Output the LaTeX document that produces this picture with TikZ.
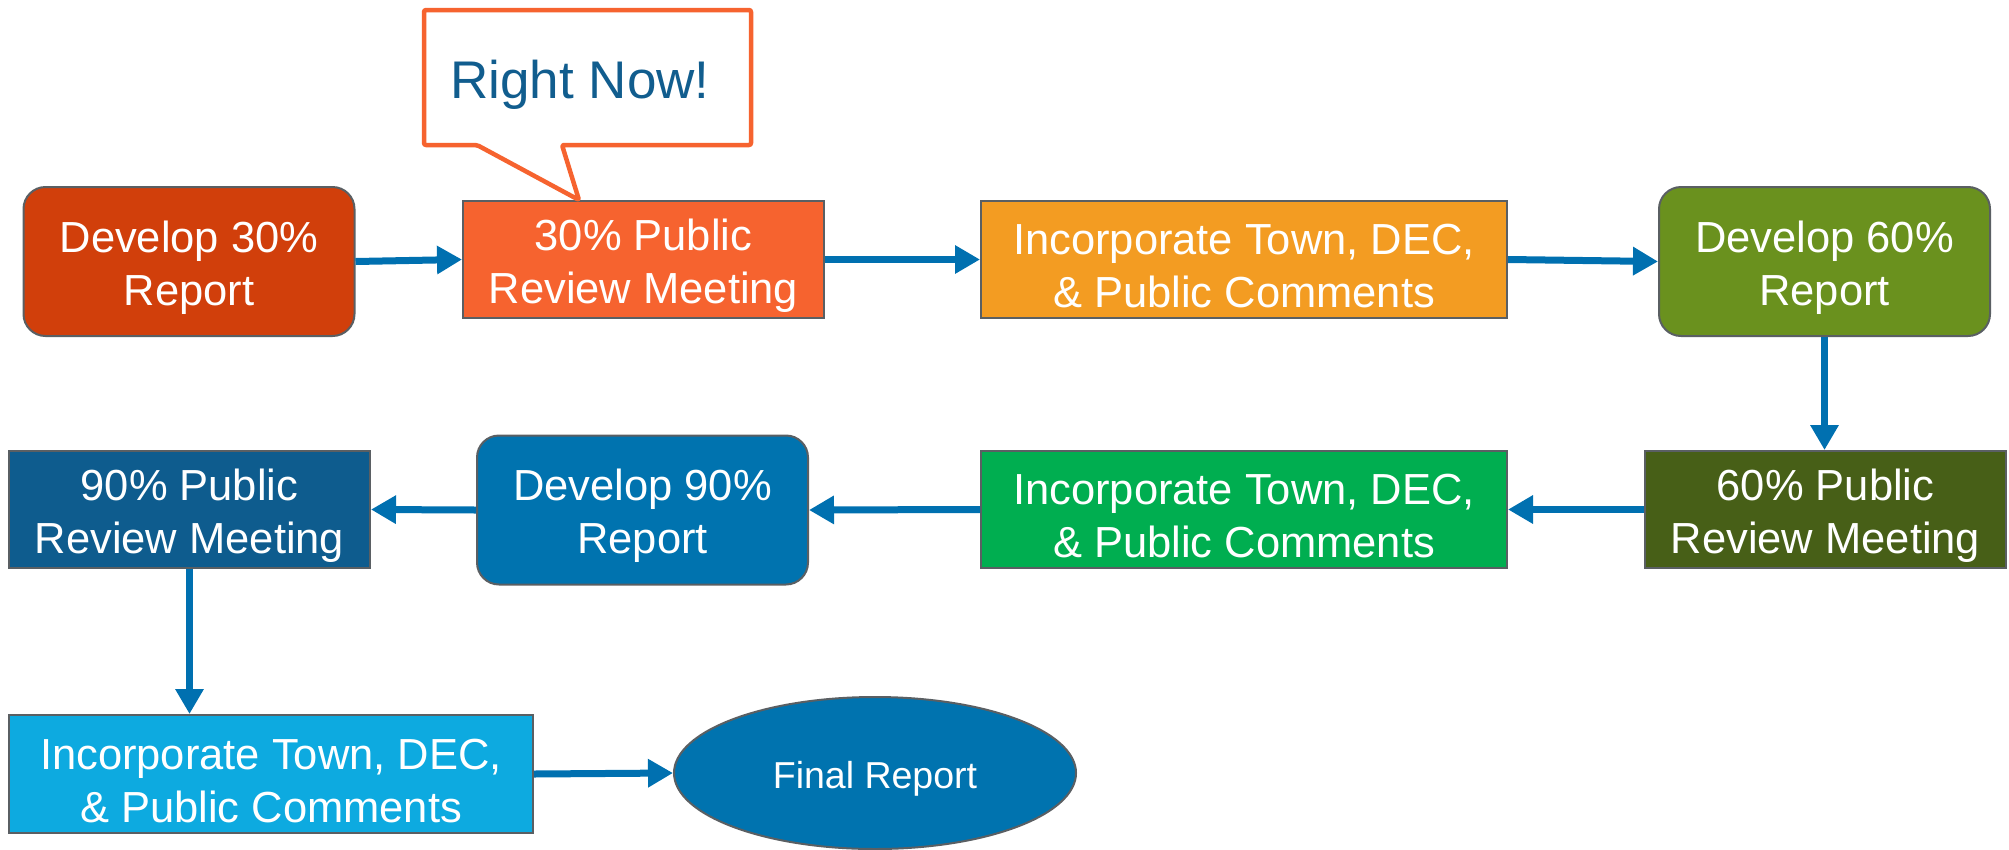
\documentclass[tikz,border=0pt]{standalone}
\usepackage{fontspec}
\setmainfont{Liberation Sans}
\usetikzlibrary{arrows.meta,shapes.geometric}

\definecolor{boxedge}{HTML}{5A5F63}
\definecolor{flowblue}{HTML}{0070B0}
\definecolor{devthirty}{HTML}{D13F0B}
\definecolor{meetthirty}{HTML}{F6632F}
\definecolor{incorange}{HTML}{F39C22}
\definecolor{devsixty}{HTML}{6A911E}
\definecolor{meetsixty}{HTML}{475F17}
\definecolor{incgreen}{HTML}{00AE50}
\definecolor{devninety}{HTML}{0073AF}
\definecolor{meetninety}{HTML}{0E5C8E}
\definecolor{incblue}{HTML}{0DAAE0}
\definecolor{nowblue}{HTML}{115D8E}

% invisible strut that gives the first line of a label extra height,
% so two-line labels sit optically centred in their boxes
\newcommand{\toplift}{\rule{0pt}{44pt}}

\tikzset{
  box/.style={draw=boxedge, line width=2pt, text=white, align=center,
    inner sep=0pt, font=\fontsize{43.5}{53}\selectfont},
  roundbox/.style={box, rounded corners=22pt},
  widebox/.style={box, minimum width=526pt, minimum height=117pt},
  meetbox/.style={box, minimum width=361pt, minimum height=117pt},
  devbox/.style={roundbox, minimum width=331pt, minimum height=149pt},
  flow/.style={draw=flowblue, line width=7pt,
    -{Triangle[length=25pt,width=27pt]}},
  bubble/.style={draw=meetthirty, line width=4.5pt, fill=white,
    line join=round, rounded corners=2pt}
}

\begin{document}
\begin{tikzpicture}[x=1pt,y=-1pt]
  \useasboundingbox (0,0) rectangle (2009,849);

  % first row, left to right
  \node[devbox, fill=devthirty] (dev30) at (189,261.5) {\toplift Develop 30\%\\Report};
  \node[meetbox, fill=meetthirty] (meet30) at (643.5,259.5) {\toplift 30\% Public\\Review Meeting};
  \node[widebox, fill=incorange] (inc1) at (1244,259.5) {\toplift Incorporate Town, DEC,\\\& Public Comments};
  \node[devbox, fill=devsixty] (dev60) at (1824.5,261.5) {\toplift Develop 60\%\\Report};

  % second row, right to left
  \node[meetbox, fill=meetsixty] (meet60) at (1825.5,509.5) {\toplift 60\% Public\\Review Meeting};
  \node[widebox, fill=incgreen] (inc2) at (1244,509.5) {\toplift Incorporate Town, DEC,\\\& Public Comments};
  \node[devbox, fill=devninety] (dev90) at (642.5,510) {\toplift Develop 90\%\\Report};
  \node[meetbox, fill=meetninety] (meet90) at (189.5,509.5) {\toplift 90\% Public\\Review Meeting};

  % last row
  \node[box, fill=incblue, minimum width=524pt, minimum height=118pt] (inc3) at (271,774) {\toplift Incorporate Town, DEC,\\\& Public Comments};
  \node[ellipse, draw=boxedge, line width=2pt, fill=devninety, text=white,
        minimum width=402pt, minimum height=152pt, inner sep=0pt,
        font=\fontsize{37.5}{45}\selectfont] (final) at (875,773) {\rule{0pt}{39pt}Final Report};

  % connectors
  \draw[flow] (dev30.east) -- (meet30.west);
  \draw[flow] (meet30.east) -- (inc1.west);
  \draw[flow] (inc1.east) -- (dev60.west);
  \draw[flow] (dev60.south) -- (dev60.south |- meet60.north);
  \draw[flow] (meet60.west) -- (inc2.east);
  \draw[flow] (inc2.west) -- (dev90.east);
  \draw[flow] (dev90.west) -- (meet90.east);
  \draw[flow] (meet90.south) -- (meet90.south |- inc3.north);
  \draw[flow] (inc3.east) -- (final.west);

  % speech bubble pointing at the current step
  \coordinate (tip) at ([xshift=-64.5pt]meet30.north);
  \draw[bubble] (424,10) -- (751,10) -- (751,145) -- (562,145) -- (tip)
    -- (477,145) -- (424,145) -- cycle;
  \node[anchor=base, text=nowblue, inner sep=0pt,
        font=\fontsize{53}{60}\selectfont] (now) at (580,98) {Right Now!};
\end{tikzpicture}
\end{document}
